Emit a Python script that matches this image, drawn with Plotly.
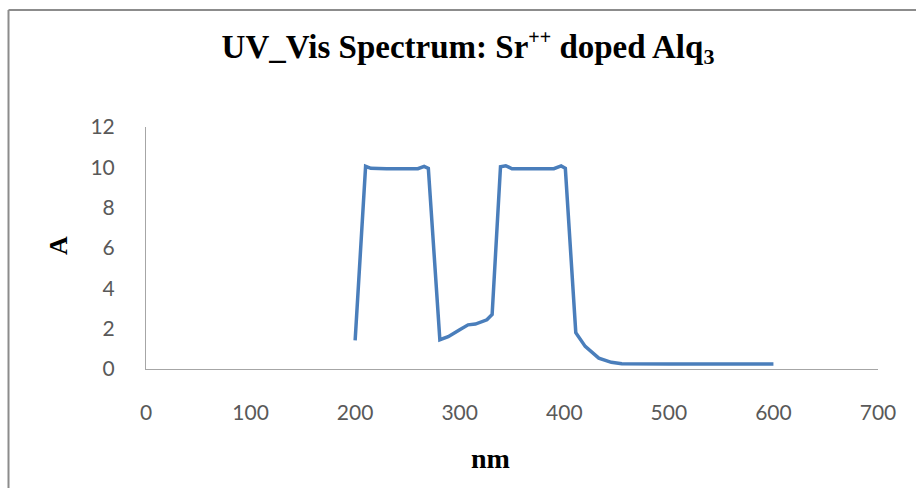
import plotly.graph_objects as go

wavelength = [200, 210, 215, 220, 230, 240, 250, 260, 266, 270, 281, 289, 300, 308, 315,
              326, 331, 339, 344, 350, 360, 370, 380, 390, 397, 401, 411, 420, 433, 445,
              455, 470, 500, 550, 600]
absorbance = [1.42, 10.05, 9.95, 9.93, 9.93, 9.93, 9.93, 9.93, 10.05, 9.95, 1.45, 1.6, 1.95,
              2.19, 2.23, 2.44, 2.7, 10.03, 10.08, 9.93, 9.93, 9.93, 9.93, 9.93, 10.07, 9.95,
              1.8, 1.12, 0.54, 0.33, 0.26, 0.25, 0.25, 0.25, 0.25]

x_ticks = [0, 100, 200, 300, 400, 500, 600, 700]
y_ticks = [0, 2, 4, 6, 8, 10, 12]

title_text = ("UV_Vis Spectrum: Sr<sup><span style='font-size:20px'>++</span></sup> "
              "doped Alq<sub><span style='font-size:22px'>3</span></sub>")
x_title = "nm"
y_title = "A"

W, H = 916, 488
ML, MR, MT, MB = 146, 38, 127, 119
pw = W - ML - MR
ph = H - MT - MB

def px_to_paper_x(px):
    return (px - ML) / pw

def px_to_paper_y(py):
    return (H - MB - py) / ph

fig = go.Figure()
fig.add_trace(go.Scatter(
    x=wavelength, y=absorbance, mode="lines",
    line=dict(color="#4a7ebb", width=3.5),
    showlegend=False, hoverinfo="x+y",
))

tick_font = dict(family="Lato, 'Open Sans', sans-serif", size=21, color="#595959")
serif_bold = "Liberation Serif, 'Times New Roman', serif"

fig.update_layout(
    width=W, height=H,
    margin=dict(l=ML, r=MR, t=MT, b=MB, pad=0),
    paper_bgcolor="white", plot_bgcolor="white",
    title=dict(text="<b>" + title_text + "</b>", x=468 / W, xanchor="center",
               y=1 - 46 / H, yanchor="middle",
               font=dict(family=serif_bold, size=33, color="#000000")),
    xaxis=dict(range=[0, 700], tickvals=x_ticks, ticktext=[str(v) for v in x_ticks],
               showgrid=False, zeroline=False, showline=True, linecolor="#a6a6a6",
               linewidth=1, ticks="outside", ticklen=25, tickcolor="rgba(0,0,0,0)",
               tickfont=tick_font, fixedrange=True),
    yaxis=dict(range=[0, 12], tickvals=y_ticks, ticktext=[str(v) for v in y_ticks],
               showgrid=False, zeroline=False, showline=True, linecolor="#a6a6a6",
               linewidth=1, ticks="outside", ticklen=26, tickcolor="rgba(0,0,0,0)",
               tickfont=tick_font, fixedrange=True),
    annotations=[
        dict(text="<b>" + x_title + "</b>", xref="paper", yref="paper",
             x=px_to_paper_x(490), y=px_to_paper_y(458), xanchor="center", yanchor="middle",
             showarrow=False, font=dict(family=serif_bold, size=28, color="#000000")),
        dict(text="<b>" + y_title + "</b>", xref="paper", yref="paper",
             x=px_to_paper_x(58), y=px_to_paper_y(246), xanchor="center", yanchor="middle",
             textangle=-90, showarrow=False,
             font=dict(family=serif_bold, size=26, color="#000000")),
    ],
    shapes=[
        dict(type="line", xref="paper", yref="paper",
             x0=px_to_paper_x(8.5), x1=px_to_paper_x(8.5),
             y0=px_to_paper_y(10), y1=px_to_paper_y(H + 20),
             line=dict(color="#8c8c8c", width=2)),
        dict(type="line", xref="paper", yref="paper",
             x0=px_to_paper_x(8.5), x1=px_to_paper_x(W + 20),
             y0=px_to_paper_y(10), y1=px_to_paper_y(10),
             line=dict(color="#8c8c8c", width=2)),
    ],
)

fig.write_html("out.html", config={"displayModeBar": False},
               post_script="document.body.style.margin='0';document.body.style.overflow='hidden';")
